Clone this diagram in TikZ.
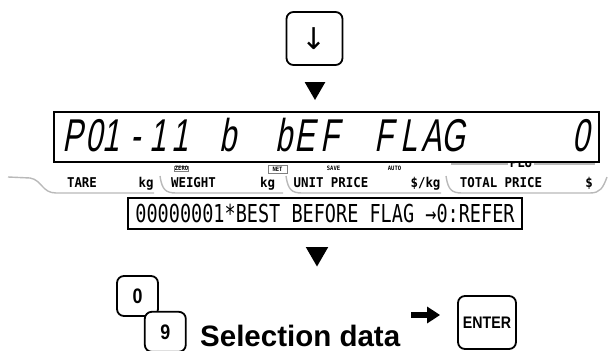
\documentclass[tikz,border=0pt]{standalone}
\usepackage{fontspec}
\setmainfont{Liberation Sans}
\newfontfamily\lcdfont[FakeSlant=0.18,FakeStretch=0.66]{Liberation Sans}
\newfontfamily\infofont[FakeStretch=0.75]{DejaVu Sans Mono}
\newfontfamily\lblfont[FakeStretch=0.92]{DejaVu Sans Mono}
\newfontfamily\keyfont[FakeStretch=0.85]{Liberation Sans}
\newfontfamily\arrowfont{DejaVu Sans}
\usepackage{tikz}
\usetikzlibrary{shapes.geometric, arrows.meta, positioning}
\tikzstyle{keycap}    = [rectangle, rounded corners=7pt, draw=black, line width=1.8pt,
                         fill=white, inner sep=0pt, minimum width=41pt, minimum height=40pt,
                         font=\keyfont\bfseries\fontsize{21}{21}\selectfont]
\tikzstyle{bigkeycap} = [keycap, minimum width=56pt, minimum height=53pt]
\tikzstyle{flowtri}   = [regular polygon, regular polygon sides=3, shape border rotate=180,
                         fill=black, inner sep=0pt, minimum size=24pt]
\tikzstyle{panel}     = [rectangle, draw=black, line width=1.5pt, fill=white, inner sep=0pt]
\tikzstyle{lcd}       = [font=\lcdfont\fontsize{46}{46}\selectfont, inner sep=0pt, anchor=base]
\tikzstyle{lbl}       = [font=\lblfont\bfseries\fontsize{13.5}{13.5}\selectfont,
                         inner sep=0pt, anchor=base]
\tikzstyle{tinylbl}   = [font=\lblfont\bfseries\fontsize{6}{6}\selectfont, inner sep=0.6pt]
\tikzstyle{rim}       = [draw=gray!55, line width=1.4pt]
\tikzstyle{bigarr}    = [line width=5.5pt, -{Triangle[length=13pt,width=16pt]}]

\begin{document}
\begin{tikzpicture}[x=1pt, y=-1pt]
  \useasboundingbox (0,0) rectangle (611,351);

  %% Down key and first marker
  \node[bigkeycap, font=\arrowfont\fontsize{30}{30}\selectfont] (down) at (314.5,38.5) {↓};
  \node[flowtri] (t1) at (315,88) {};

  %% ── Label brackets under the display ──────────────────────────
  \draw[rim] (8,177) -- (30,178) .. controls (42,180) and (42,193) .. (56,193) -- (154,193);
  \draw[rim] (160,176) .. controls (162,190) and (166,193) .. (176,193) -- (283,193);
  \draw[rim] (286,176) .. controls (288,190) and (292,193) .. (302,193) -- (441,193);
  \draw[rim] (446,176) .. controls (448,190) and (452,193) .. (462,193) -- (590,193)
             .. controls (600,193) and (603,188) .. (607,177);
  \draw[rim] (451,164) -- (595,164);
  \node[lbl, anchor=center, fill=white, inner sep=1.5pt] (plu) at (521,163) {PLU};

  %% ── LCD display ───────────────────────────────────────────────
  \node[panel, minimum width=545pt, minimum height=50pt] (display) at (326.5,137) {};
  \foreach \cx/\ch [count=\i] in {72.5/P, 94/0, 111/1, 136/-, 158/1, 180/1, 227.5/b,
                                  283.5/b, 305/E, 329.5/F, 383.5/F, 409/L, 431.5/A,
                                  453/G, 580.5/0}
    \node[lcd] (seg\i) at (\cx,151.5) {\ch};

  %% Annunciators and field labels
  \node[lbl] (tare)   at (82,187)    {TARE};
  \node[lbl] (kga)    at (146,187)   {kg};
  \node[lbl] (weight) at (193.5,187) {WEIGHT};
  \node[lbl] (kgb)    at (267.5,187) {kg};
  \node[lbl] (unit)   at (331,187)   {UNIT PRICE};
  \node[lbl] (perkg)  at (425.5,187) {\$/kg};
  \node[lbl] (total)  at (501,187)   {TOTAL PRICE};
  \node[lbl] (dollar) at (589,187)   {\$};

  \node[tinylbl, draw=gray, line width=0.5pt, inner sep=0.4pt] (zero) at (181.5,168.5) {ZERO};
  \node[tinylbl, draw=gray, line width=0.5pt, minimum width=19pt,
        minimum height=8pt] (net) at (277.5,169) {NET};
  \node[tinylbl] (save) at (333.5,168) {SAVE};
  \node[tinylbl] (auto) at (394.5,168) {AUTO};

  %% ── Message line ──────────────────────────────────────────────
  \node[panel, minimum width=394pt, minimum height=31pt,
        font=\infofont\fontsize{24.7}{24.7}\selectfont] (info) at (325,213.5)
      {00000001*BEST BEFORE FLAG →0:REFER};
  \node[flowtri, minimum size=26pt] (t2) at (317,253.5) {};

  %% ── Key entry ─────────────────────────────────────────────────
  \node[keycap] (k0) at (137.5,296) {0};
  \node[keycap, below right=-6pt and -15pt of k0] (k9) {9};

  \node[font=\bfseries\fontsize{29.5}{29.5}\selectfont, anchor=base west,
        inner sep=0pt] (sel) at (200,346) {Selection data};
  \node[bigkeycap, minimum width=58pt,
        font=\keyfont\bfseries\fontsize{16.7}{16.7}\selectfont] (enter) at (487,322.5) {ENTER};

  \coordinate (arrowy) at (0,315);
  \draw[bigarr, shorten <=11pt, shorten >=17pt] (sel.east |- arrowy) -- (enter.west |- arrowy);

\end{tikzpicture}
\end{document}
